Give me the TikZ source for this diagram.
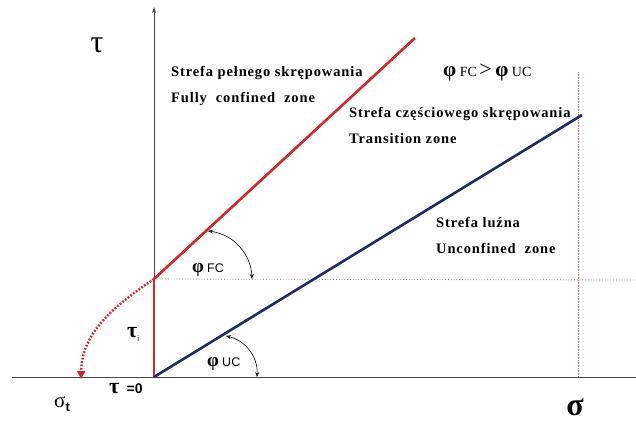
\documentclass[tikz,border=0pt]{standalone}
\usepackage{fontspec}
\setmainfont{Liberation Serif}
\newfontfamily\zonefont[LetterSpace=6]{Liberation Serif}
\newfontfamily\lblsans{Liberation Sans}
\usetikzlibrary{arrows.meta}
\definecolor{fcred}{RGB}{214,36,42}
\definecolor{ucblue}{RGB}{32,42,100}
\definecolor{axisgray}{RGB}{70,70,70}
\begin{document}
\begin{tikzpicture}[x=1pt,y=-1pt,
  zonetext/.style={anchor=west,inner sep=0pt,font=\zonefont\bfseries\fontsize{14.5}{16}\selectfont},
  anglearc/.style={{Stealth[open,length=5pt,width=4pt]}-{Stealth[open,length=5pt,width=4pt]},black,line width=0.6pt},
  axisline/.style={axisgray,line width=0.9pt}]
\useasboundingbox (0,0) rectangle (636,423);
% key points
\coordinate (O) at (154,377);
\coordinate (I) at (154,279);
\coordinate (Ytop) at (154,7);
\coordinate (Xl) at (12,377);
\coordinate (Xr) at (636,377);
\coordinate (Rtop) at (415,38);
\coordinate (Btop) at (582,115);
\coordinate (Hr) at (636,280);
\coordinate (Vt) at (578,72);
\coordinate (Vb) at (578,377);
\coordinate (St) at (81,379);
% axes
\draw[axisline] (Xl) -- (Xr);
\draw[axisline,-{Stealth[length=6pt,width=4pt]}] (O) -- (Ytop);
% dotted guides
\draw[gray,line width=0.8pt,dotted] (I) -- (Hr);
\draw[fcred!70,line width=0.6pt,densely dotted] (Vt) -- (Vb);
% envelope lines
\draw[fcred,line width=2.8pt] (O) -- (I);
\draw[fcred,line width=2.6pt] (I) -- (Rtop);
\draw[ucblue,line width=2.6pt] (O) -- (Btop);
% tension cut-off curve
\draw[fcred,line width=2.4pt,dash pattern=on 1.8pt off 1.6pt,-{Triangle[length=8pt,width=8pt]}]
  (I) .. controls (108,310) and (82,335) .. (St);
% angle arcs
\coordinate (a1) at (208,231);
\coordinate (a2) at (252,279);
\coordinate (b1) at (226,336);
\coordinate (b2) at (257,377);
\draw[anglearc] (a1) to[bend left=40] (a2);
\draw[anglearc] (b1) to[bend left=40] (b2);
% labels
\node[inner sep=0pt,font=\fontsize{32}{32}\selectfont] (tau) at (97,45) {τ};
\node[inner sep=0pt,font=\bfseries\fontsize{32}{32}\selectfont] (sig) at (575,407) {σ};
\node[inner sep=0pt,anchor=west] (phiFC) at (192,270) {\bfseries\fontsize{19}{19}\selectfont φ\,\mdseries\lblsans\fontsize{12.5}{12}\selectfont FC};
\node[inner sep=0pt,anchor=west] (phiUC) at (207,364) {\bfseries\fontsize{19}{19}\selectfont φ\,\mdseries\lblsans\fontsize{12.5}{12}\selectfont UC};
\node[inner sep=0pt,anchor=west] (taui) at (127,334) {\fontsize{22}{22}\selectfont\bfseries τ\lblsans\mdseries\fontsize{8}{8}\selectfont\raisebox{-4pt}{i}};
\node[inner sep=0pt,anchor=west] (tau0) at (109,389) {\fontsize{22}{22}\selectfont\bfseries τ\,\,\lblsans\bfseries\fontsize{14}{14}\selectfont =0};
\node[inner sep=0pt,anchor=west] (sigt) at (54,404) {\fontsize{21}{21}\selectfont σ\lblsans\bfseries\fontsize{13}{13}\selectfont\raisebox{-4pt}{t}};
\node[inner sep=0pt,anchor=west] (cmp) at (443,72) {\bfseries\fontsize{21}{21}\selectfont φ\,\mdseries\fontsize{14}{14}\selectfont FC\,\fontsize{22}{22}\selectfont{}>\,\bfseries\fontsize{21}{21}\selectfont φ\,\mdseries\fontsize{14}{14}\selectfont UC};
\node[zonetext] (z1a) at (171,73) {Strefa pełnego skrępowania};
\node[zonetext] (z1b) at (171,99) {Fully\ \ confined\ \ zone};
\node[zonetext] (z2a) at (349,114) {Strefa częściowego skrępowania};
\node[zonetext] (z2b) at (349,139) {Transition zone};
\node[zonetext] (z3a) at (436,222) {Strefa luźna};
\node[zonetext] (z3b) at (436,248) {Unconfined\ \ zone};
\end{tikzpicture}
\end{document}
